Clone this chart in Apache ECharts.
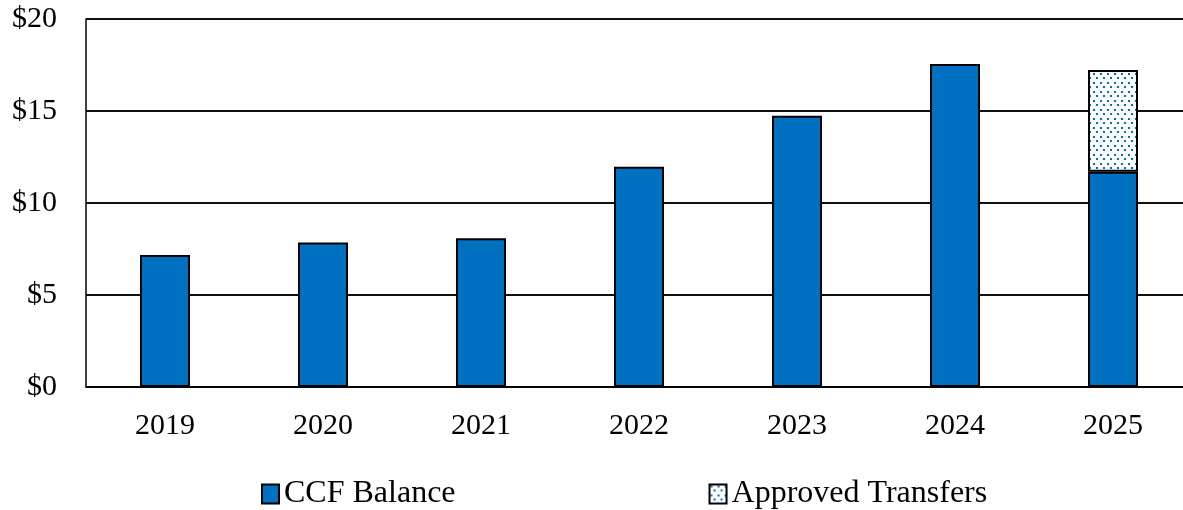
<!DOCTYPE html>
<html><head><meta charset="utf-8">
<script src="https://cdn.jsdelivr.net/npm/echarts@6/dist/echarts.min.js"></script>
<style>html,body{margin:0;padding:0;background:#fff;overflow:hidden}#c{width:1183px;height:510px}</style>
</head><body><div id="c"></div>
<script>
const categories = ['2019','2020','2021','2022','2023','2024','2025'];
const ccfBalance = [7.17, 7.86, 8.08, 11.97, 14.74, 17.55, 11.70];
const approvedTransfers = ['-', '-', '-', '-', '-', '-', 5.53];
const yTicks = [0, 5, 10, 15, 20];

const pc = document.createElement('canvas');
pc.width = 7; pc.height = 9;
const g = pc.getContext('2d');
g.fillStyle = '#ffffff'; g.fillRect(0,0,7,9);
g.fillStyle = '#0070C0';
g.fillRect(1,1,2,2); g.fillRect(4,5,2,2);

const font = 'Liberation Serif, Times New Roman, serif';
const chart = echarts.init(document.getElementById('c'), null, {renderer:'canvas'});
chart.setOption({
  animation: false,
  backgroundColor: '#fff',
  grid: {left: 86, width: 1106, top: 19, bottom: 123, containLabel: false, outerBoundsMode: 'none'},
  legend: {
    left: 256, top: 473, itemGap: 253, itemWidth: 17, itemHeight: 19, icon: 'rect',
    textStyle: {fontFamily: font, fontSize: 32, color: '#000'},
    data: ['CCF Balance', 'Approved Transfers']
  },
  xAxis: {
    type: 'category', data: categories,
    axisLine: {lineStyle: {color: '#000', width: 1.5}},
    axisTick: {show: false},
    axisLabel: {fontFamily: font, fontSize: 30, color: '#000', margin: 24}
  },
  yAxis: {
    type: 'value', min: yTicks[0], max: yTicks[yTicks.length-1], interval: 5,
    axisLine: {show: true, lineStyle: {color: '#000', width: 1.5}},
    axisTick: {show: false},
    splitLine: {lineStyle: {color: '#111', width: 2}},
    axisLabel: {fontFamily: font, fontSize: 30, color: '#000', margin: 29, formatter: '${value}'}
  },
  series: [
    {name: 'CCF Balance', type: 'bar', stack: 's', data: ccfBalance, barWidth: 50,
     itemStyle: {color: '#0070C0', borderColor: '#000', borderWidth: 2}},
    {name: 'Approved Transfers', type: 'bar', stack: 's', data: approvedTransfers, barWidth: 50,
     itemStyle: {color: {image: pc, repeat: 'repeat'}, borderColor: '#000', borderWidth: 2}}
  ]
});
</script></body></html>
